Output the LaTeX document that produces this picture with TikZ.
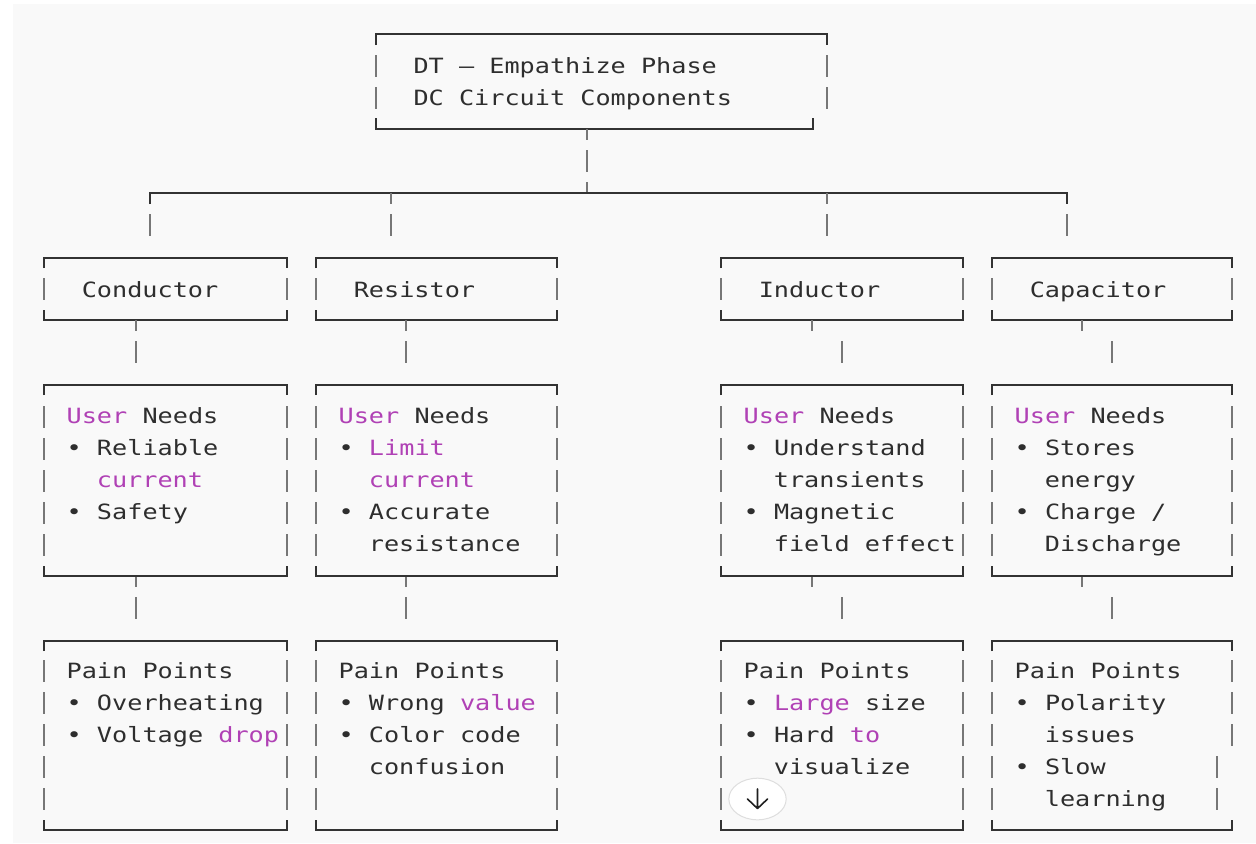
\documentclass[tikz,border=0pt]{standalone}
\usepackage{fontspec}
\newfontfamily\mono{DejaVu Sans Mono}[FakeStretch=1.2]
\definecolor{bg}{HTML}{F9F9F9}
\definecolor{ink}{HTML}{2E2E2E}
\definecolor{kw}{HTML}{B041B5}
\definecolor{rulec}{HTML}{333333}
\definecolor{barc}{HTML}{777777}
\newcommand\kw[1]{\textcolor{kw}{#1}}
% box: L R T B rows
\newcommand\artbox[5]{%
  \draw[hl] (#1,#3+10) -- (#1,#3) -- (#2,#3) -- (#2,#3+10);
  \draw[hl] (#1,#4-10) -- (#1,#4) -- (#2,#4) -- (#2,#4-10);
  \foreach \r in {#5} {\draw[vb] (#1,\r-11) -- (#1,\r+11); \draw[vb] (#2,\r-11) -- (#2,\r+11);}%
}
\begin{document}
\begin{tikzpicture}[x=0.75pt,y=-0.75pt,
  hl/.style={draw=rulec,line width=1pt},
  vb/.style={draw=barc,line width=1.8pt},
  txt/.style={anchor=base west,inner sep=0pt,outer sep=0pt,text=ink,font=\mono\fontsize{15.75pt}{24pt}\selectfont}]
\useasboundingbox (0,0) rectangle (1256,843);
\fill[white] (0,0) rectangle (1256,843);
\fill[bg] (13,4) rectangle (1256,843);

% ---------- top box ----------
\draw[hl] (376,45) -- (376,34) -- (827,34) -- (827,45);
\draw[hl] (376,118) -- (376,129) -- (813,129) -- (813,118);
\foreach \r in {66,98} {\draw[vb] (376,\r-11) -- (376,\r+11); \draw[vb] (827,\r-11) -- (827,\r+11);}
\node[txt] (t1) at (413.5,73) {DT – Empathize Phase};
\node[txt] (t2) at (413.5,105) {DC Circuit Components};

% ---------- trunk ----------
\coordinate (topB) at (587,129);
\coordinate (busM) at (587,193);
\coordinate (busL) at (150,193);
\coordinate (busR) at (1067,193);
\draw[vb] (topB) -- ++(0,11);
\draw[vb] (587,150) -- (587,172);
\draw[vb] (busM) -- ++(0,-11);
\draw[hl] (150,204) -- (busL) -- (busR) -- (1067,204);
\foreach \x in {391,827} {\draw[vb] (\x,193) -- (\x,204);}
\foreach \x in {150,391,827,1067} {\draw[vb] (\x,214) -- (\x,236);}

% ---------- level 1 ----------
\artbox{44}{287}{258}{320}{289}
\artbox{316}{557}{258}{320}{289}
\artbox{721}{963}{258}{320}{289}
\artbox{992}{1232}{258}{320}{289}
\node[txt] (c0) at (81.8,297) {Conductor};
\node[txt] (r0) at (353.8,297) {Resistor};
\node[txt] (i0) at (758.8,297) {Inductor};
\node[txt] (k0) at (1029.8,297) {Capacitor};

% ---------- links 1 -> 2 -> 3 ----------
\foreach \s/\b in {136/136,406/406,812/842,1082/1112} {
  \draw[vb] (\s,320) -- (\s,331);
  \draw[vb] (\b,341) -- (\b,363);
  \draw[vb] (\s,576) -- (\s,587);
  \draw[vb] (\b,597) -- (\b,619);
}

% ---------- level 2 ----------
\artbox{44}{287}{385}{576}{417,449,481,513,545}
\artbox{316}{557}{385}{576}{417,449,481,513,545}
\artbox{721}{963}{385}{576}{417,449,481,513,545}
\artbox{992}{1232}{385}{576}{417,449,481,513,545}

\node[txt] (c1) at (66.65,423.5) {\kw{User} Needs};
\node[txt] (c2) at (66.65,455.5) {• Reliable};
\node[txt] (c3) at (96.85,487.5) {\kw{current}};
\node[txt] (c4) at (66.65,519.5) {• Safety};

\node[txt] (r1) at (338.65,423.5) {\kw{User} Needs};
\node[txt] (r2) at (338.65,455.5) {• \kw{Limit}};
\node[txt] (r3) at (368.85,487.5) {\kw{current}};
\node[txt] (r4) at (338.65,519.5) {• Accurate};
\node[txt] (r5) at (368.85,551.5) {resistance};

\node[txt] (i1) at (743.65,423.5) {\kw{User} Needs};
\node[txt] (i2) at (743.65,455.5) {• Understand};
\node[txt] (i3) at (773.85,487.5) {transients};
\node[txt] (i4) at (743.65,519.5) {• Magnetic};
\node[txt] (i5) at (773.85,551.5) {field effect};

\node[txt] (k1) at (1014.65,423.5) {\kw{User} Needs};
\node[txt] (k2) at (1014.65,455.5) {• Stores};
\node[txt] (k3) at (1044.85,487.5) {energy};
\node[txt] (k4) at (1014.65,519.5) {• Charge /};
\node[txt] (k5) at (1044.85,551.5) {Discharge};

% ---------- level 3 ----------
\artbox{44}{287}{641}{830}{671,703,735,767,799}
\artbox{316}{557}{641}{830}{671,703,735,767,799}
\artbox{721}{963}{641}{830}{671,703,735,767,799}
% capacitor pain box (shifted right bars on last rows)
\draw[hl] (992,651) -- (992,641) -- (1232,641) -- (1232,651);
\draw[hl] (992,820) -- (992,830) -- (1232,830) -- (1232,820);
\foreach \r in {671,703,735,767,799} {\draw[vb] (992,\r-11) -- (992,\r+11);}
\foreach \r in {671,703,735} {\draw[vb] (1232,\r-11) -- (1232,\r+11);}
\foreach \r in {767,799} {\draw[vb] (1217,\r-11) -- (1217,\r+11);}

\node[txt] (cp1) at (66.65,678) {Pain Points};
\node[txt] (cp2) at (66.65,710) {• Overheating};
\node[txt] (cp3) at (66.65,742) {• Voltage \kw{drop}};

\node[txt] (rp1) at (338.65,678) {Pain Points};
\node[txt] (rp2) at (338.65,710) {• Wrong \kw{value}};
\node[txt] (rp3) at (338.65,742) {• Color code};
\node[txt] (rp4) at (368.85,774) {confusion};

\node[txt] (ip1) at (743.65,678) {Pain Points};
\node[txt] (ip2) at (743.65,710) {• \kw{Large} size};
\node[txt] (ip3) at (743.65,742) {• Hard \kw{to}};
\node[txt] (ip4) at (773.85,774) {visualize};

\node[txt] (kp1) at (1014.65,678) {Pain Points};
\node[txt] (kp2) at (1014.65,710) {• Polarity};
\node[txt] (kp3) at (1044.85,742) {issues};
\node[txt] (kp4) at (1014.65,774) {• Slow};
\node[txt] (kp5) at (1044.85,806) {learning};

% ---------- scroll button ----------
\coordinate (sb) at (757.5,799);
\draw[draw=black!13,fill=white,line width=0.75pt] (sb) ellipse [x radius=21.5pt, y radius=15.6pt];
\draw[draw=black!88,line width=1.2pt,line cap=round,line join=round]
  (757.5,789) -- (757.5,808) (747.5,799) -- (757.5,808.5) -- (767.5,799);
\end{tikzpicture}
\end{document}
